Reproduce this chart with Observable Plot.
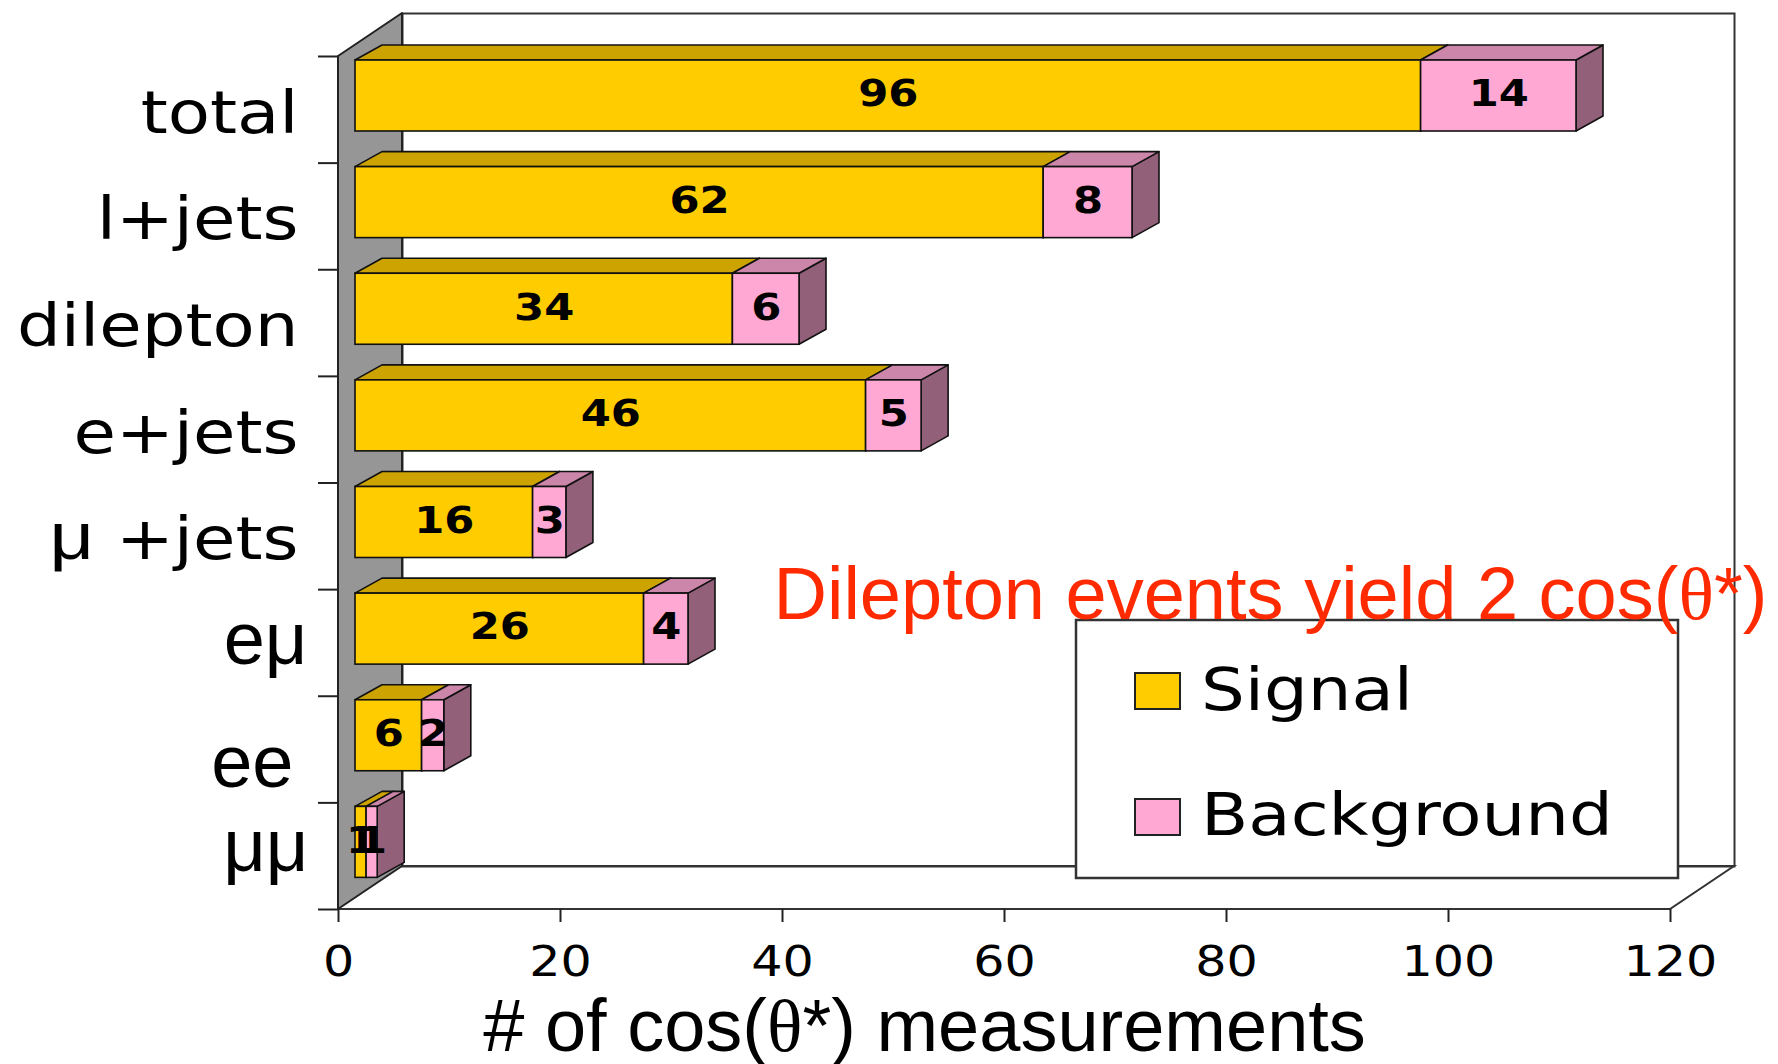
<!DOCTYPE html>
<html><head><meta charset="utf-8">
<script src="https://cdn.jsdelivr.net/npm/d3@7"></script>
<script src="https://cdn.jsdelivr.net/npm/@observablehq/plot@0.6"></script>
<style>html,body{margin:0;padding:0;background:#fff}#chart svg{display:block}</style>
</head><body><div id="chart"></div>
<script>
// ---- data ----
const categories = ["total", "l+jets", "dilepton", "e+jets", "μ +jets", "eμ", "ee", "μμ"];
const signal = [96, 62, 34, 46, 16, 26, 6, 1];
const background = [14, 8, 6, 5, 3, 4, 2, 1];
const seriesNames = ["Signal", "Background"];
const xTicks = [0, 20, 40, 60, 80, 100, 120];
const xDomain = [0, 120];
const xLabel = "# of cos(θ*) measurements";
const annotation = "Dilepton events yield 2 cos(θ*)";

// ---- layout / style ----
const W = 1778, H = 1064;
const mL = 338, mR = 108, mT = 56, mB = 155;
const WALL_DX = 64, WALL_DY = -43;
const FRONT_DX = 17, BAR_TOP = 4, BAR_H = 71;
const DEPTH_DX = 27, DEPTH_DY = -15;
const STRETCH = 1.17;
const DV = "DejaVu Sans", LS = "Liberation Sans";
const palette = {
  Signal: {front: "#FFCC00", top: "#CCA300", side: "#997A00"},
  Background: {front: "#FFA8D4", top: "#CC86AA", side: "#93607A"}
};
const rowH = (H - mT - mB) / categories.length;

const rows = categories.map((c, i) => ({category: c, row: i}));
const segments = categories.flatMap((c, i) => [
  {category: c, row: i, series: "Signal", value: signal[i], x1: 0, x2: signal[i]},
  {category: c, row: i, series: "Background", value: background[i], x1: signal[i], x2: signal[i] + background[i]}
]);

function path(g, d, attrs) {
  const p = g.append("path").attr("d", d);
  for (const k in attrs) p.attr(k, attrs[k]);
  return p;
}

// left gray side wall
function sideWall(index, {x, y}) {
  const g = d3.create("svg:g");
  const x0 = x(xDomain[0]), yt = y(0), yb = y(categories.length);
  path(g, `M${x0},${yt}L${x0 + WALL_DX},${yt + WALL_DY}L${x0 + WALL_DX},${yb + WALL_DY}L${x0},${yb}Z`,
    {fill: "#969696", stroke: "#222", "stroke-width": 2, "stroke-linejoin": "round"});
  return g.node();
}
// floor outline (front edge = x axis line)
function floor(index, {x, y}) {
  const g = d3.create("svg:g");
  const x0 = x(xDomain[0]), x1 = x(xDomain[1]), yb = y(categories.length);
  path(g, `M${x0},${yb}L${x1},${yb}L${x1 + WALL_DX},${yb + WALL_DY}L${x0 + WALL_DX},${yb + WALL_DY}`,
    {fill: "none", stroke: "#333", "stroke-width": 2});
  return g.node();
}
// top & side faces of the 3D bars
function barDepth(index, {x, y}) {
  const g = d3.create("svg:g").attr("stroke", "#111").attr("stroke-width", 1.6).attr("stroke-linejoin", "round");
  for (const d of segments) {
    const xa = x(d.x1) + FRONT_DX, xb = x(d.x2) + FRONT_DX;
    const t = y(d.row) + BAR_TOP, b = t + BAR_H;
    const c = palette[d.series];
    path(g, `M${xb},${t}L${xb + DEPTH_DX},${t + DEPTH_DY}L${xb + DEPTH_DX},${b + DEPTH_DY}L${xb},${b}Z`, {fill: c.side});
    path(g, `M${xa},${t}L${xb},${t}L${xb + DEPTH_DX},${t + DEPTH_DY}L${xa + DEPTH_DX},${t + DEPTH_DY}Z`, {fill: c.top});
  }
  return g.node();
}
// legend box
function legend() {
  const g = d3.create("svg:g").attr("text-anchor", "start");
  g.append("rect").attr("x", 1076).attr("y", 620).attr("width", 602).attr("height", 258)
    .attr("fill", "white").attr("stroke", "#333").attr("stroke-width", 2.5);
  seriesNames.forEach((name, i) => {
    g.append("rect").attr("x", 1135).attr("y", 673 + i * 126).attr("width", 45).attr("height", 36)
      .attr("fill", palette[name].front).attr("stroke", "#222").attr("stroke-width", 2);
    g.append("text").attr("transform", `translate(1201,${710 + i * 125}) scale(${STRETCH},1)`)
      .attr("text-anchor", "start")
      .attr("font-family", DV).attr("font-size", 59).attr("fill", "#000").text(name);
  });
  return g.node();
}

const frontMark = (series) => Plot.rect(segments.filter(d => d.series === series), {
  x1: "x1", x2: "x2", y1: "row", y2: d => d.row + 1,
  dx: FRONT_DX, insetTop: BAR_TOP, insetBottom: rowH - BAR_TOP - BAR_H,
  fill: palette[series].front, stroke: "#111", strokeWidth: 1.6
});

const arialLabel = (name, dx, dy) => Plot.text(rows.filter(d => d.category === name), {
  x: () => 0, y: d => d.row + 0.5, text: "category", textAnchor: "end",
  dx, dy, fontFamily: LS, fontSize: 74, fill: "#000", lineAnchor: "middle"
});

const plot = Plot.plot({
  width: W, height: H,
  marginLeft: mL, marginRight: mR, marginTop: mT, marginBottom: mB,
  x: {domain: xDomain},
  y: {domain: [0, categories.length], reverse: true},
  style: {background: "white", overflow: "visible", color: "#000"},
  marks: [
    Plot.frame({dx: WALL_DX, dy: WALL_DY, stroke: "#333", strokeWidth: 2}),
    floor,
    sideWall,
    Plot.axisY(d3.range(categories.length + 1), {tickSize: 20, tickFormat: () => "", label: null, stroke: "#222", strokeWidth: 2}),
    barDepth,
    frontMark("Signal"),
    frontMark("Background"),
    Plot.text(segments, {
      x: d => (d.x1 + d.x2) / 2, y: "row", text: d => String(d.value),
      dx: FRONT_DX, dy: 38, lineAnchor: "middle",
      fontFamily: DV, fontWeight: "bold", fontSize: 37, fill: "#000"
    }),
    Plot.text(rows.filter(d => d.row < 5), {
      x: () => 0, y: d => d.row + 0.5, text: "category", textAnchor: "end",
      dx: -40, dy: 4, lineAnchor: "middle", fontFamily: DV, fontSize: 59, fill: "#000"
    }),
    arialLabel("eμ", -31, -3),
    arialLabel("ee", -45, 14),
    arialLabel("μμ", -30, -9),
    Plot.axisX(xTicks, {tickSize: 13, tickPadding: 24, fontSize: 42, fontFamily: DV, label: null, stroke: "#222", strokeWidth: 2}),
    legend,
    Plot.text([annotation], {
      frameAnchor: "top-left", textAnchor: "start", lineAnchor: "middle",
      dx: 773 - mL, dy: 618 - mT - 0.32 * 74, fontFamily: LS, fontSize: 74, fill: "#ff2a00"
    }),
    Plot.text([xLabel], {
      frameAnchor: "bottom", lineAnchor: "middle",
      dx: -80, dy: 1050 - (H - mB) - 0.32 * 74, fontFamily: LS, fontSize: 74, fill: "#000"
    })
  ]
});

document.getElementById("chart").append(plot);

// horizontal stretch of the spreadsheet-style (DejaVu) texts
plot.querySelectorAll('g[font-family="DejaVu Sans"] text').forEach(t => {
  const tr = t.getAttribute("transform");
  if (tr) t.setAttribute("transform", tr + ` scale(${STRETCH},1)`);
  else {
    const x = +t.getAttribute("x") || 0, y = +t.getAttribute("y") || 0;
    t.removeAttribute("x"); t.removeAttribute("y");
    t.setAttribute("transform", `translate(${x},${y}) scale(${STRETCH},1)`);
  }
});

const NS = "http://www.w3.org/2000/svg";
// symbol-font glyphs
plot.querySelectorAll("text").forEach(t => {
  if (t.childElementCount) return;
  const s = t.textContent;
  if (s === "μ +jets") {
    t.textContent = "";
    const sp = document.createElementNS(NS, "tspan");
    sp.setAttribute("font-family", LS); sp.setAttribute("font-size", 66);
    sp.textContent = "μ";
    t.append(sp, document.createTextNode(" +jets"));
  } else if (s.includes("θ")) {
    t.textContent = "";
    s.split("θ").forEach((part, i) => {
      if (i > 0) {
        const sp = document.createElementNS(NS, "tspan");
        sp.setAttribute("font-family", "Liberation Serif");
        sp.textContent = "θ";
        t.append(sp);
      }
      t.append(document.createTextNode(part));
    });
  }
});
</script>
</body></html>
